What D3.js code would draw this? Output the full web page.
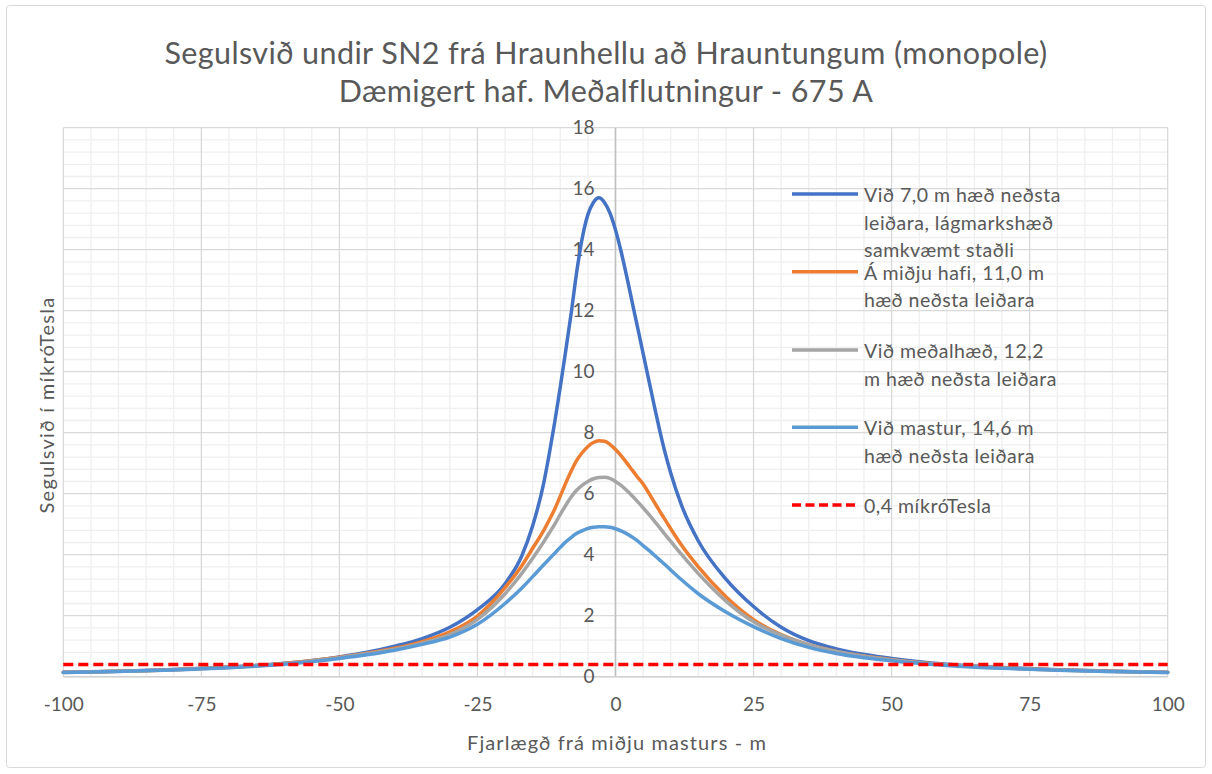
<!DOCTYPE html>
<html>
<head>
<meta charset="utf-8">
<script src="https://cdn.jsdelivr.net/npm/d3@7"></script>
<style>
  html, body { margin: 0; padding: 0; background: #ffffff; }
  svg { display: block; font-family: Lato, "Open Sans", "Noto Sans", sans-serif; }
</style>
</head>
<body>
<svg id="chart" width="1212" height="774"></svg>
<script>
// Distance from the centre of the mast (m)
const distances = [-100, -90, -80, -75, -70, -60, -50, -45, -40, -35, -30, -25, -20, -17, -15, -13, -12, -11, -10, -9, -8, -7, -6, -5, -4, -3, -2, -1, 0, 1, 2, 3, 4, 5, 6, 7, 8, 9, 10, 12, 15, 20, 25, 30, 35, 40, 50, 60, 70, 80, 90, 100];

// Magnetic flux density (µT) for each height of the lowest conductor
const field7_0 = [0.145, 0.18, 0.235, 0.275, 0.315, 0.44, 0.65, 0.80, 1.00, 1.25, 1.62, 2.20, 3.05, 3.95, 4.95, 6.35, 7.30, 8.35, 9.50, 10.7, 11.95, 13.3, 14.4, 15.15, 15.55, 15.7, 15.55, 15.2, 14.65, 13.95, 13.15, 12.3, 11.45, 10.6, 9.75, 8.9, 8.08, 7.33, 6.68, 5.60, 4.45, 3.20, 2.30, 1.62, 1.18, 0.91, 0.60, 0.41, 0.305, 0.232, 0.182, 0.146];
const field11_0 = [0.142, 0.178, 0.23, 0.27, 0.31, 0.43, 0.635, 0.77, 0.93, 1.15, 1.47, 1.99, 2.92, 3.63, 4.21, 4.80, 5.14, 5.50, 5.92, 6.35, 6.75, 7.10, 7.35, 7.55, 7.68, 7.74, 7.72, 7.62, 7.45, 7.25, 7.02, 6.78, 6.54, 6.32, 6.03, 5.73, 5.43, 5.14, 4.85, 4.30, 3.60, 2.62, 1.87, 1.38, 1.05, 0.83, 0.56, 0.395, 0.29, 0.222, 0.175, 0.142];
const field12_2 = [0.14, 0.176, 0.228, 0.265, 0.305, 0.425, 0.625, 0.75, 0.90, 1.10, 1.38, 1.88, 2.72, 3.38, 3.88, 4.42, 4.71, 5.00, 5.32, 5.62, 5.90, 6.12, 6.28, 6.40, 6.49, 6.53, 6.54, 6.50, 6.40, 6.27, 6.11, 5.93, 5.74, 5.54, 5.33, 5.11, 4.89, 4.66, 4.44, 4.00, 3.38, 2.48, 1.80, 1.36, 1.05, 0.83, 0.55, 0.39, 0.287, 0.22, 0.173, 0.14];
const field14_6 = [0.137, 0.172, 0.222, 0.257, 0.295, 0.41, 0.60, 0.72, 0.87, 1.06, 1.30, 1.72, 2.40, 2.90, 3.28, 3.67, 3.86, 4.05, 4.24, 4.42, 4.57, 4.70, 4.79, 4.86, 4.90, 4.92, 4.92, 4.90, 4.85, 4.78, 4.69, 4.58, 4.45, 4.30, 4.15, 3.99, 3.83, 3.67, 3.50, 3.17, 2.72, 2.12, 1.64, 1.25, 0.96, 0.76, 0.52, 0.37, 0.275, 0.212, 0.168, 0.136];

// Reference limit line
const limitX = [-100, 100];
const limitY = [0.4, 0.4];

const seriesNames = [
  ["Við 7,0 m hæð neðsta", "leiðara, lágmarkshæð", "samkvæmt staðli"],
  ["Á miðju hafi, 11,0 m", "hæð neðsta leiðara"],
  ["Við meðalhæð, 12,2", "m hæð neðsta leiðara"],
  ["Við mastur, 14,6 m", "hæð neðsta leiðara"],
  ["0,4 míkróTesla"]
];
const seriesColors = ["#4472C4", "#ED7D31", "#A5A5A5", "#5B9BD5", "#FF0000"];

const titleLines = ["Segulsvið undir SN2 frá Hraunhellu að Hrauntungum (monopole)", "Dæmigert haf. Meðalflutningur - 675 A"];
const xTitle = "Fjarlægð frá miðju masturs - m";
const yTitle = "Segulsvið í míkróTesla";
const xTicks = [-100, -75, -50, -25, 0, 25, 50, 75, 100];
const yTicks = [0, 2, 4, 6, 8, 10, 12, 14, 16, 18];

// ---- layout ----
const svg = d3.select("#chart");
const plot = { left: 63.3, right: 1167.7, top: 127.7, bottom: 676.7 };
const x = d3.scaleLinear().domain([-100, 100]).range([plot.left, plot.right]);
const y = d3.scaleLinear().domain([0, 18]).range([plot.bottom, plot.top]);
const textColor = "#595959";

// chart frame
svg.append("rect")
  .attr("x", 6.5).attr("y", 5.5).attr("width", 1199).attr("height", 762)
  .attr("rx", 3)
  .attr("fill", "#ffffff").attr("stroke", "#d9d9d9").attr("stroke-width", 1);

// title
const title = svg.append("text")
  .attr("text-anchor", "middle")
  .attr("fill", textColor)
  .attr("font-size", 30.5)
  .attr("letter-spacing", 0.4);
title.append("tspan").attr("x", 606).attr("y", 64).text(titleLines[0]);
title.append("tspan").attr("x", 606).attr("y", 102).text(titleLines[1]);

// ---- gridlines ----
const grid = svg.append("g");
const minorX = d3.range(-100, 100.001, 5).filter(v => v % 25 !== 0);
const minorY = d3.range(0, 18.001, 0.4).map(v => +v.toFixed(1)).filter(v => Math.abs(v / 2 - Math.round(v / 2)) > 1e-6);

grid.selectAll("line.minor-x").data(minorX).join("line")
  .attr("class", "minor-x")
  .attr("x1", d => x(d)).attr("x2", d => x(d))
  .attr("y1", plot.top).attr("y2", plot.bottom)
  .attr("stroke", "#efefef").attr("stroke-width", 1.3);
grid.selectAll("line.minor-y").data(minorY).join("line")
  .attr("class", "minor-y")
  .attr("x1", plot.left).attr("x2", plot.right)
  .attr("y1", d => y(d)).attr("y2", d => y(d))
  .attr("stroke", "#efefef").attr("stroke-width", 1.3);

grid.selectAll("line.major-x").data(xTicks).join("line")
  .attr("class", "major-x")
  .attr("x1", d => x(d)).attr("x2", d => x(d))
  .attr("y1", plot.top).attr("y2", plot.bottom)
  .attr("stroke", "#d9d9d9").attr("stroke-width", 1.3);
grid.selectAll("line.major-y").data(yTicks).join("line")
  .attr("class", "major-y")
  .attr("x1", plot.left).attr("x2", plot.right)
  .attr("y1", d => y(d)).attr("y2", d => y(d))
  .attr("stroke", "#d9d9d9").attr("stroke-width", 1.3);

// vertical value axis crossing at x = 0, and the horizontal axis at y = 0
svg.append("line")
  .attr("x1", x(0)).attr("x2", x(0))
  .attr("y1", plot.top).attr("y2", plot.bottom)
  .attr("stroke", "#bfbfbf").attr("stroke-width", 1.5);
svg.append("line")
  .attr("x1", plot.left).attr("x2", plot.right)
  .attr("y1", plot.bottom).attr("y2", plot.bottom)
  .attr("stroke", "#d0d0d0").attr("stroke-width", 1.5);

// ---- axes (labels only) ----
const xAxis = d3.axisBottom(x).tickValues(xTicks).tickSize(0).tickPadding(21).tickFormat(d => String(d));
const gx = svg.append("g").attr("transform", `translate(0,${plot.bottom})`).call(xAxis);
gx.select(".domain").remove();
gx.selectAll("text").attr("fill", textColor).attr("font-size", 19).attr("font-family", "Lato, sans-serif");

const yAxis = d3.axisLeft(y).tickValues(yTicks).tickSize(0).tickPadding(21).tickFormat(d => String(d));
const gy = svg.append("g").attr("transform", `translate(${x(0)},0)`).call(yAxis);
gy.select(".domain").remove();
gy.selectAll("text").attr("fill", textColor).attr("font-size", 19).attr("font-family", "Lato, sans-serif");

// axis titles
svg.append("text")
  .attr("x", 617).attr("y", 750)
  .attr("text-anchor", "middle")
  .attr("fill", textColor).attr("font-size", 20).attr("letter-spacing", 1.1)
  .text(xTitle);
svg.append("text")
  .attr("transform", "translate(54,405) rotate(-90)")
  .attr("text-anchor", "middle")
  .attr("fill", textColor).attr("font-size", 20).attr("letter-spacing", 1.3)
  .text(yTitle);

// ---- series ----
const line = d3.line()
  .x(d => x(d[0]))
  .y(d => y(d[1]))
  .curve(d3.curveMonotoneX);

const seriesData = [field7_0, field11_0, field12_2, field14_6].map(vals => distances.map((d, i) => [d, vals[i]]));
seriesData.push(limitX.map((d, i) => [d, limitY[i]]));

const lines = svg.append("g").attr("fill", "none").attr("stroke-linecap", "round").attr("stroke-linejoin", "round");
seriesData.forEach((data, i) => {
  const p = lines.append("path")
    .datum(data)
    .attr("d", line)
    .attr("stroke", seriesColors[i])
    .attr("stroke-width", 3.5);
  if (i === 4) p.attr("stroke-dasharray", "10,5").attr("stroke-linecap", "butt");
});

// ---- legend ----
const legendRows = [194, 271.7, 350, 427.3, 505];
const legend = svg.append("g");
seriesNames.forEach((rows, i) => {
  const g = legend.append("g").attr("transform", `translate(0,${legendRows[i]})`);
  const l = g.append("line")
    .attr("x1", 792).attr("x2", 858).attr("y1", 0).attr("y2", 0)
    .attr("stroke", seriesColors[i]).attr("stroke-width", 3.5);
  if (i === 4) l.attr("stroke-dasharray", "9,4.5");
  const t = g.append("text")
    .attr("fill", textColor).attr("font-size", 19.5).attr("letter-spacing", 0.5)
    .attr("dominant-baseline", "central");
  rows.forEach((s, j) => {
    t.append("tspan").attr("x", 864).attr("y", j * 27.6).text(s);
  });
});
</script>
</body>
</html>
